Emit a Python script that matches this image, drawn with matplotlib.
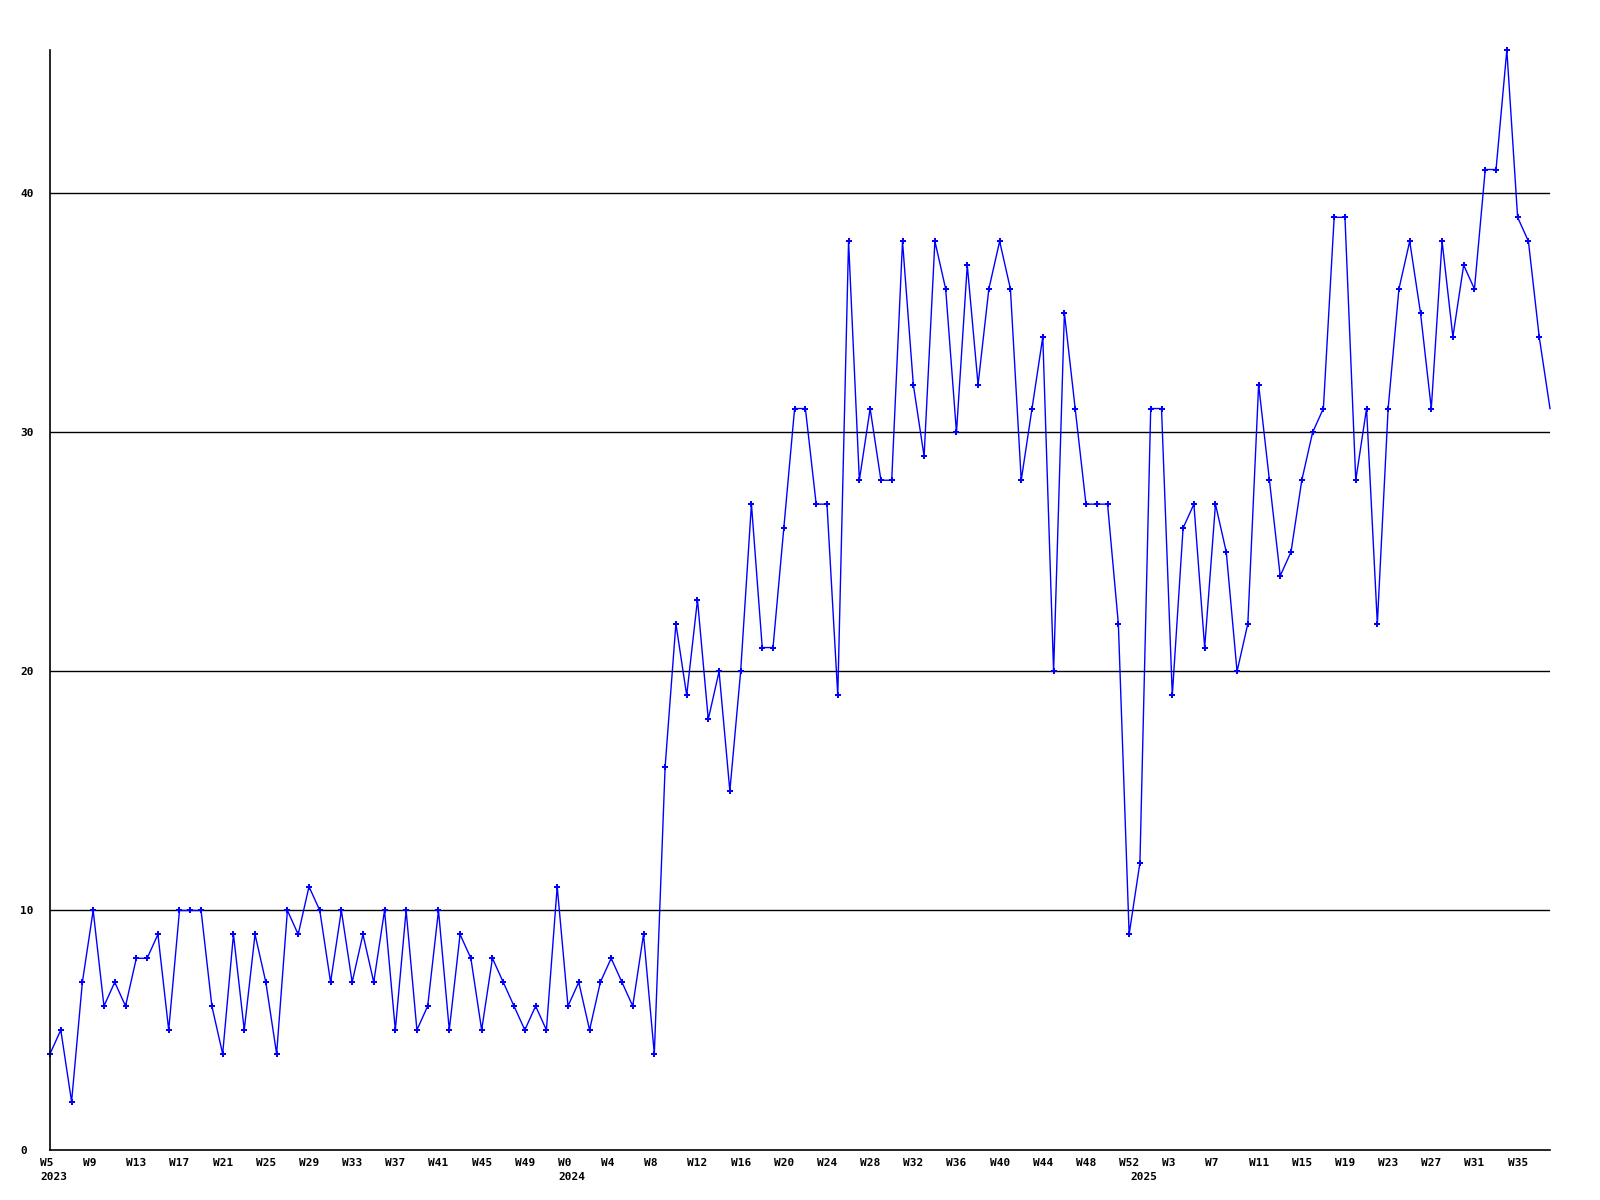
#Weekly counts line chart

#import packages
import numpy as np
import matplotlib
matplotlib.use('Agg')
import matplotlib.pyplot as plt
from matplotlib.transforms import ScaledTranslation

#data, one value per week
vals_2023 = [4, 5, 2, 7, 10, 6, 7, 6, 8, 8, 9, 5, 10, 10, 10, 6, 4, 9, 5, 9, 7, 4,
             10, 9, 11, 10, 7, 10, 7, 9, 7, 10, 5, 10, 5, 6, 10, 5, 9, 8, 5, 8, 7,
             6, 5, 6, 5, 11]
vals_2024 = [6, 7, 5, 7, 8, 7, 6, 9, 4, 16, 22, 19, 23, 18, 20, 15, 20, 27, 21, 21,
             26, 31, 31, 27, 27, 19, 38, 28, 31, 28, 28, 38, 32, 29, 38, 36, 30, 37,
             32, 36, 38, 36, 28, 31, 34, 20, 35, 31, 27, 27, 27, 22, 9]
vals_2025 = [12, 31, 31, 19, 26, 27, 21, 27, 25, 20, 22, 32, 28, 24, 25, 28, 30, 31,
             39, 39, 28, 31, 22, 31, 36, 38, 35, 31, 38, 34, 37, 36, 41, 41, 46, 39,
             38, 34, 31]
weeks_2023 = list(range(5, 53))
weeks_2024 = list(range(0, 53))
weeks_2025 = list(range(0, 39))
years = ['2023', '2024', '2025']
yticks = [0, 10, 20, 30, 40]

values = vals_2023 + vals_2024 + vals_2025
weeks = weeks_2023 + weeks_2024 + weeks_2025
x = np.arange(len(values))
year_start = [0, len(vals_2023), len(vals_2023) + len(vals_2024)]

fig = plt.figure(figsize=(16, 12), dpi=100)
ax = fig.add_axes([50/1600, 1 - 1149.5/1200, 1500/1600, 1099.5/1200])

#last point sits on the edge and has no marker in the original
ax.plot(x, values, color='#0000ff', lw=1.0, marker='P', markersize=4.5,
        markeredgewidth=0, markevery=list(range(len(values) - 1)), clip_on=False)

ax.set_xlim(0, len(values) - 1)
ax.set_ylim(0, max(values))

#horizontal grid lines only
for g in yticks[1:]:
    ax.axhline(g, color='black', lw=1, zorder=0)

for s in ['top', 'right']:
    ax.spines[s].set_visible(False)
for s in ['left', 'bottom']:
    ax.spines[s].set_linewidth(1.2)
    ax.spines[s].set_color('black')

font = dict(family='DejaVu Sans Mono', weight='bold', size=8)

#y tick labels, left aligned
ax.set_yticks(yticks)
ax.set_yticklabels([str(t) for t in yticks], **font)
ax.tick_params(axis='y', length=0, pad=0)
for lab in ax.get_yticklabels():
    lab.set_horizontalalignment('left')
    lab.set_transform(lab.get_transform() + ScaledTranslation(-0.30, 0, fig.dpi_scale_trans))

#x tick labels every 4 weeks
xt = x[::4]
ax.set_xticks(xt)
ax.set_xticklabels(['W%d' % weeks[i] for i in xt], **font)
ax.tick_params(axis='x', length=0, pad=6)
for lab in ax.get_xticklabels():
    lab.set_horizontalalignment('left')
    lab.set_transform(lab.get_transform() + ScaledTranslation(-0.10, 0, fig.dpi_scale_trans))

#year labels under the first week of each year
off = ScaledTranslation(-0.10, -0.22, fig.dpi_scale_trans)
for i, yr in zip(year_start, years):
    ax.text(i, 0, yr, transform=ax.get_xaxis_transform() + off,
            ha='left', va='top', **font)

fig.savefig('out.png', dpi=100)
